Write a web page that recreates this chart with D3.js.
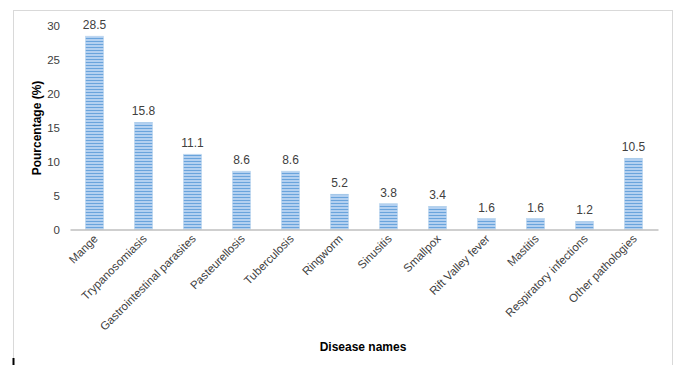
<!DOCTYPE html>
<html>
<head>
<meta charset="utf-8">
<script src="https://cdn.jsdelivr.net/npm/d3@7"></script>
<style>
  body { margin: 0; background: #fff; }
  svg { display: block; font-family: "Liberation Sans", Arial, sans-serif; }
</style>
</head>
<body>
<div id="chart"></div>
<script>
// data
var diseases = [
  "Mange", "Trypanosomiasis", "Gastrointestinal parasites", "Pasteurellosis",
  "Tuberculosis", "Ringworm", "Sinusitis", "Smallpox", "Rift Valley fever",
  "Mastitis", "Respiratory infections", "Other pathologies"
];
var percentages = [28.5, 15.8, 11.1, 8.6, 8.6, 5.2, 3.8, 3.4, 1.6, 1.6, 1.2, 10.5];
var yTicks = [0, 5, 10, 15, 20, 25, 30];

var dataset = diseases.map((name, i) => ({ name: name, value: percentages[i] }));

var dim = { width: 676, height: 365 };
var plot = { left: 70, right: 658, top: 26, bottom: 229.5 };

var svg = d3.select("#chart").append("svg")
  .attr("width", dim.width)
  .attr("height", dim.height);

// striped fill, like the excel "horizontal lines" pattern
var defs = svg.append("defs");
var pat = defs.append("pattern")
  .attr("id", "stripes")
  .attr("patternUnits", "userSpaceOnUse")
  .attr("width", 6)
  .attr("height", 3);
pat.append("rect").attr("width", 6).attr("height", 3).attr("fill", "#b3d0f0");
pat.append("rect").attr("y", 2).attr("width", 6).attr("height", 1).attr("fill", "#6aa4dc");

// outer frame
svg.append("rect")
  .attr("x", 13.5).attr("y", 10.5)
  .attr("width", 659).attr("height", 380)
  .attr("fill", "none")
  .attr("stroke", "#d9d9d9");
svg.append("line")
  .attr("x1", 13.5).attr("x2", 13.5)
  .attr("y1", 358).attr("y2", 365)
  .attr("stroke", "#000").attr("stroke-width", 2);

var x = d3.scaleBand()
  .domain(diseases)
  .range([plot.left, plot.right])
  .paddingInner(0.63)
  .paddingOuter(0.315);

var y = d3.scaleLinear()
  .domain([0, 30])
  .range([plot.bottom, plot.top]);

// y axis (labels only)
var yAxis = svg.append("g")
  .attr("transform", `translate(${plot.left},0)`)
  .call(d3.axisLeft(y).tickValues(yTicks).tickSize(0).tickPadding(10));
yAxis.select(".domain").remove();
yAxis.selectAll("text")
  .attr("font-size", 11.5)
  .attr("font-family", "Liberation Sans, Arial, sans-serif")
  .attr("fill", "#404040");

// bars
svg.selectAll("rect.bar")
  .data(dataset)
  .join("rect")
  .attr("class", "bar")
  .attr("x", (d) => x(d.name))
  .attr("y", (d) => y(d.value))
  .attr("width", x.bandwidth())
  .attr("height", (d) => y(0) - y(d.value))
  .attr("fill", "url(#stripes)")
  .attr("stroke", "#bdd7ee")
  .attr("stroke-width", 0.6);

// value labels
svg.selectAll("text.val")
  .data(dataset)
  .join("text")
  .attr("class", "val")
  .attr("x", (d) => x(d.name) + x.bandwidth() / 2)
  .attr("y", (d) => y(d.value) - 7)
  .attr("text-anchor", "middle")
  .attr("font-size", 12)
  .attr("fill", "#404040")
  .text((d) => d.value.toFixed(1));

// x axis
var xAxis = svg.append("g")
  .attr("transform", `translate(0,${plot.bottom})`)
  .call(d3.axisBottom(x).tickSize(0).tickSizeOuter(0).tickPadding(0));
xAxis.select(".domain").attr("stroke", "#bfbfbf").attr("stroke-width", 1.3);
xAxis.selectAll("text")
  .attr("font-size", 11.5)
  .attr("font-family", "Liberation Sans, Arial, sans-serif")
  .attr("fill", "#404040")
  .attr("text-anchor", "end")
  .attr("dy", null)
  .attr("transform", "translate(4,10) rotate(-45)");

// axis titles
svg.append("text")
  .attr("x", 363)
  .attr("y", 351)
  .attr("text-anchor", "middle")
  .attr("font-size", 12)
  .attr("font-weight", "bold")
  .attr("fill", "#000")
  .text("Disease names");

svg.append("text")
  .attr("transform", "translate(41,128) rotate(-90)")
  .attr("text-anchor", "middle")
  .attr("font-size", 12)
  .attr("font-weight", "bold")
  .attr("fill", "#000")
  .text("Pourcentage (%)");
</script>
</body>
</html>
